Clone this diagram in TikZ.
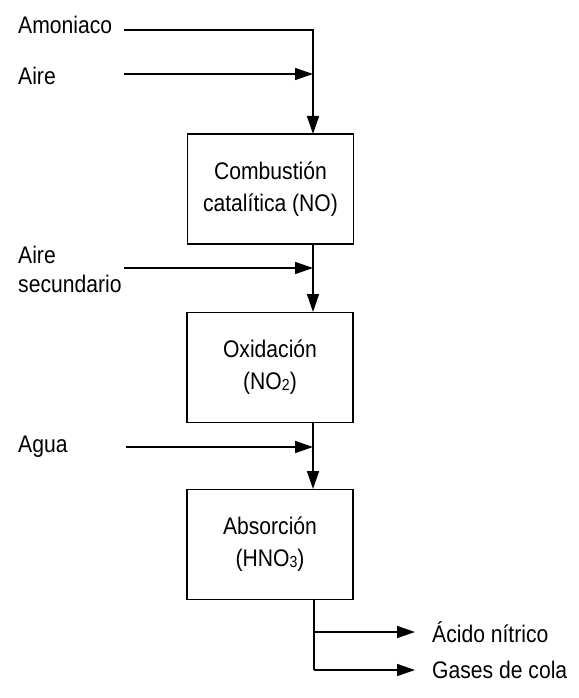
\documentclass[tikz,border=0pt]{standalone}
\usepackage{fontspec}
\setmainfont{Liberation Sans}[FakeStretch=0.88]
\usetikzlibrary{arrows.meta}
\newcommand{\sm}[1]{{\fontsize{16}{16}\selectfont\raisebox{-1pt}{#1}}}
\begin{document}
\begin{tikzpicture}[x=1pt,y=-1pt,
  proc/.style={draw,line width=1.5pt,minimum width=166pt,minimum height=110pt,align=center,inner sep=0pt,font=\fontsize{24}{32}\selectfont},
  lbl/.style={anchor=west,inner sep=0pt,align=left,font=\fontsize{24}{29}\selectfont},
  flow/.style={line width=1.5pt,-{Triangle[length=18pt,width=12pt]}},
  plain/.style={line width=1.5pt}]
\useasboundingbox (0,0) rectangle (578,698);
\node[proc] (b1) at (270.5,189) {Combustión\\catalítica (NO)};
\node[proc] (b2) at (270,367.5) {Oxidación\\(NO\sm{2})};
\node[proc] (b3) at (270,544.5) {Absorción\\(HNO\sm{3})};
\node[lbl] (amon) at (18,25) {Amoniaco};
\node[lbl] (aire) at (18,76) {Aire};
\node[lbl] (aires) at (18,269) {Aire\\secundario};
\node[lbl] (agua) at (18,447) {Agua};
\node[lbl] (acido) at (432,632) {Ácido nítrico};
\node[lbl] (gases) at (432,670) {Gases de cola};
\coordinate (a0) at (124,30);
\coordinate (a1) at (313,30);
\coordinate (r0) at (124,74);
\coordinate (r1) at (313,74);
\coordinate (s0) at (124,268);
\coordinate (s1) at (313,268);
\coordinate (w0) at (126,447);
\coordinate (w1) at (313,447);
\coordinate (t1) at (313,134);
\coordinate (t2) at (313,312);
\coordinate (t3) at (313,489);
\coordinate (d1) at (313,244);
\coordinate (d2) at (313,423);
\coordinate (d3) at (314,600);
\coordinate (e1) at (314,632);
\coordinate (e2) at (314,670);
\coordinate (f1) at (415,632);
\coordinate (f2) at (415,670);
\draw[flow] (a0) -- (a1) -- (t1);
\draw[flow] (r0) -- (r1);
\draw[flow] (d1) -- (t2);
\draw[flow] (s0) -- (s1);
\draw[flow] (d2) -- (t3);
\draw[flow] (w0) -- (w1);
\draw[plain] (d3) -- (e2);
\draw[flow] (e1) -- (f1);
\draw[flow] (e2) -- (f2);
\end{tikzpicture}
\end{document}
